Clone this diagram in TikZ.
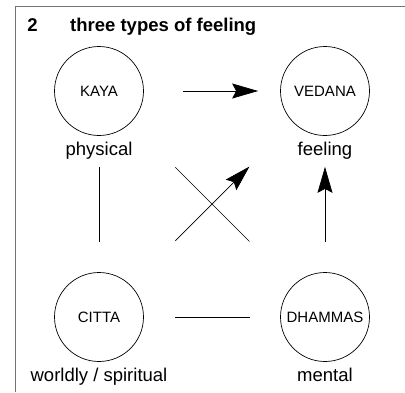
\documentclass[tikz,border=0pt]{standalone}
\usepackage{fontspec}
\setmainfont{Liberation Sans}
\usetikzlibrary{arrows.meta, positioning}

\begin{document}
\begin{tikzpicture}[x=1pt, y=-1pt, node distance=5pt]
\tikzstyle{aspect} = [circle, draw, line width=0.7pt, minimum size=89pt, inner sep=0pt, font=\fontsize{15}{17}\selectfont]
\tikzstyle{caption} = [inner sep=1pt, font=\fontsize{18.5}{21}\selectfont]
\tikzstyle{link} = [line width=0.7pt]
\tikzstyle{arrow} = [line width=0.7pt, -{Stealth[length=26pt, width=15pt, inset=4pt]}]
\tikzstyle{frame} = [line width=1.6pt, draw=black!55]

\useasboundingbox (0,0) rectangle (405,392);
\draw[frame] (15.5,392) |- (405,6.5);

\node[anchor=base, font=\bfseries\fontsize{18.5}{21}\selectfont] (num) at (32.5,31) {2};
\node[anchor=base west, inner sep=0pt, font=\bfseries\fontsize{18.5}{21}\selectfont] (title) at (70,31) {three types of feeling};

\node[aspect] (kaya) at (99,91) {KAYA};
\node[aspect] (vedana) at (325,91) {VEDANA};
\node[aspect] (citta) at (99,317) {CITTA};
\node[aspect] (dhammas) at (325,317) {DHAMMAS};

\node[caption, below=of kaya] (physical) {physical};
\node[caption, below=of vedana] (feeling) {feeling};
\node[caption, below=of citta] (worldly) {worldly / spiritual};
\node[caption, below=of dhammas] (mental) {mental};

\draw[arrow, shorten <=39pt, shorten >=22pt] (kaya) -- (vedana);
\draw[link, shorten <=31pt, shorten >=30pt] (kaya) -- (citta);
\draw[link, shorten <=63pt, shorten >=62pt] (kaya) -- (dhammas);
\draw[arrow, shorten <=63pt, shorten >=62pt] (citta) -- (vedana);
\draw[link, shorten <=31pt, shorten >=30pt] (citta) -- (dhammas);
\draw[arrow, shorten <=30pt, shorten >=31pt] (dhammas) -- (vedana);
\end{tikzpicture}
\end{document}
